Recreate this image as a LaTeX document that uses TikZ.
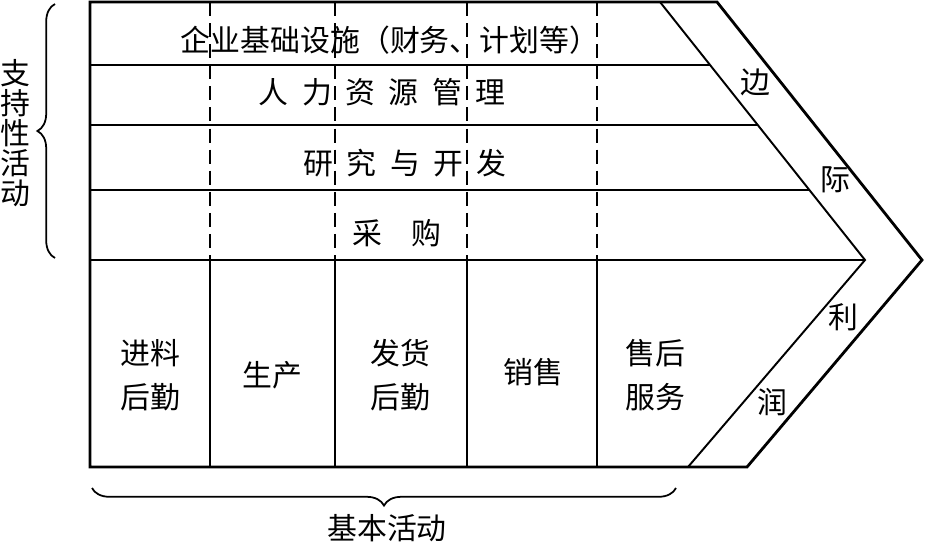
\documentclass[tikz,border=0pt]{standalone}
\usepackage{fontspec}
\setmainfont{Noto Sans CJK SC}
\usetikzlibrary{decorations.pathreplacing}

\begin{document}
\begin{tikzpicture}[x=0.02cm, y=-0.02cm, font=\fontsize{17}{17}\selectfont,
  frame/.style={line width=1.6pt, line join=miter},
  grid/.style={line width=1.1pt},
  split/.style={line width=1.1pt, dash pattern=on 8pt off 4pt},
  lbl/.style={inner sep=0pt, align=center},
  cell/.style={lbl, font=\fontsize{17}{25}\selectfont},
  brc/.style={decorate, decoration={brace, amplitude=10pt}, line width=1pt},
  brcdown/.style={decorate, decoration={brace, mirror, amplitude=10pt}, line width=1pt}]
\useasboundingbox (0,0) rectangle (925,544);
% corners of the chain
\coordinate (tl) at (90,2);
\coordinate (bl) at (90,467);
\coordinate (ti) at (660,2);
\coordinate (to) at (717,2);
\coordinate (mi) at (865,260);
\coordinate (mo) at (922,260);
\coordinate (bi) at (688,467);
\coordinate (bo) at (747,467);
% outline and margin band
\draw[frame] (bo) -- (bl) -- (tl) -- (to) -- (mo) -- cycle;
\draw[grid] (ti) -- (mi) -- (bi);
% support rows
\foreach \y in {65,125,190}
  \draw[grid] (90,\y) -- ({660+(\y-2)/258*205},\y);
\draw[grid] (90,260) -- (mi);
% activity columns
\foreach \x in {210,335,467,597}{
  \draw[split] (\x,2) -- (\x,260);
  \draw[grid] (\x,260) -- (\x,467);
}
% support activities
\node[lbl] (infra) at (390,40) {企业基础设施（财务、计划等）};
\node[lbl] (hrm) at (382,92) {人\hspace{0.45em}力\hspace{0.45em}资\hspace{0.45em}源\hspace{0.45em}管\hspace{0.45em}理};
\node[lbl] (rnd) at (405,163) {研\hspace{0.45em}究\hspace{0.45em}与\hspace{0.45em}开\hspace{0.45em}发};
\node[lbl] (buy) at (397,233) {采\hspace{1em}购};
% primary activities
\node[cell] (inlog) at (150,375) {进料\\后勤};
\node[cell] (prod) at (272,375) {生产};
\node[cell] (outlog) at (400,375) {发货\\后勤};
\node[cell] (sale) at (533,372) {销售};
\node[cell] (serv) at (655,375) {售后\\服务};
% margin
\node[lbl] (m1) at (755,82) {边};
\node[lbl] (m2) at (835,180) {际};
\node[lbl] (m3) at (843,317) {利};
\node[lbl] (m4) at (772,402) {润};
% braces
\draw[brc] (55,258) -- (55,4);
\node[lbl] (supp) at (15,133) {支\\持\\性\\活\\动};
\draw[brcdown] (92,488) -- (676,488);
\node[lbl] (prim) at (387,528) {基本活动};
\end{tikzpicture}
\end{document}
